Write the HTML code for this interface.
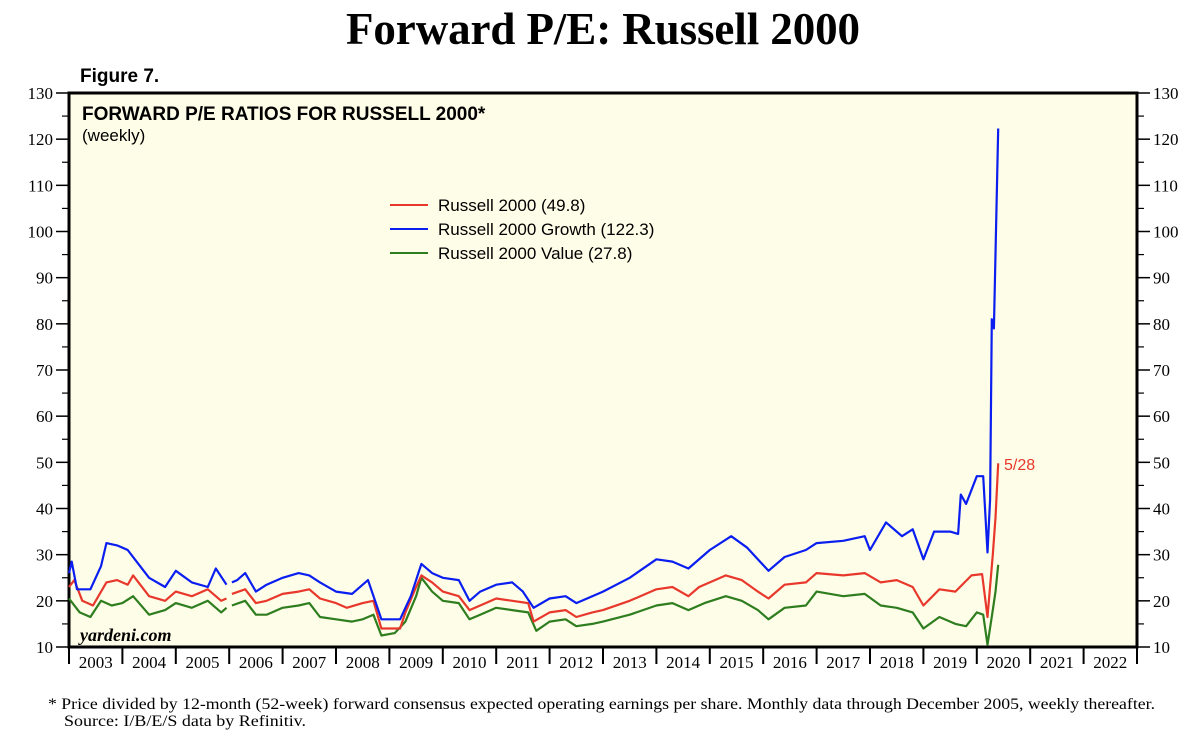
<!DOCTYPE html>
<html><head><meta charset="utf-8"><style>
body{margin:0;background:#fff;width:1200px;height:736px;overflow:hidden}
svg text{font-family:"Liberation Sans",sans-serif}
.serif{font-family:"Liberation Serif",serif}
</style></head><body>
<svg id="chart" width="1200" height="736">
<text class="serif" x="603" y="44" font-size="45" font-weight="bold" text-anchor="middle" textLength="514">Forward P/E: Russell 2000</text>
<text x="80" y="82" font-size="19" font-weight="bold">Figure 7.</text>
<rect x="69" y="93" width="1068" height="554" fill="#fefde8" stroke="#000" stroke-width="3"/>
<text x="82" y="120" font-size="19" font-weight="bold">FORWARD P/E RATIOS FOR RUSSELL 2000*</text>
<text x="82" y="141" font-size="17">(weekly)</text>
<text class="serif" x="80" y="641" font-size="18" font-style="italic" font-weight="bold">yardeni.com</text>
<g id="axes"></g>
<g id="series"></g>
<g>
<line x1="390" y1="205" x2="428" y2="205" stroke="#e8382c" stroke-width="2"/>
<text x="438" y="211" font-size="17">Russell 2000 (49.8)</text>
<line x1="390" y1="229" x2="428" y2="229" stroke="#0a1ef0" stroke-width="2"/>
<text x="438" y="235" font-size="17">Russell 2000 Growth (122.3)</text>
<line x1="390" y1="253" x2="428" y2="253" stroke="#2e7d1f" stroke-width="2"/>
<text x="438" y="259" font-size="17">Russell 2000 Value (27.8)</text>
</g>
<text x="1004" y="470" font-size="16" fill="#e8382c">5/28</text>
<text class="serif" x="48" y="709" font-size="16" textLength="1107" lengthAdjust="spacingAndGlyphs">*  Price divided by 12-month (52-week) forward consensus expected operating earnings per share. Monthly data through December 2005, weekly thereafter.</text>
<text class="serif" x="64" y="726" font-size="16" textLength="242" lengthAdjust="spacingAndGlyphs">Source: I/B/E/S data by Refinitiv.</text>
</svg>
<script>
const yTicks=[10,20,30,40,50,60,70,80,90,100,110,120,130];
const years=[2003,2004,2005,2006,2007,2008,2009,2010,2011,2012,2013,2014,2015,2016,2017,2018,2019,2020,2021,2022];
const r2kDates=[2003.0,2003.1,2003.25,2003.45,2003.7,2003.9,2004.1,2004.2,2004.5,2004.8,2005.0,2005.3,2005.6,2005.85,2005.95,null,2006.05,2006.3,2006.5,2006.7,2007.0,2007.3,2007.5,2007.7,2008.0,2008.2,2008.5,2008.7,2008.85,2009.2,2009.3,2009.5,2009.6,2009.8,2010.0,2010.3,2010.5,2010.7,2011.0,2011.3,2011.6,2011.7,2012.0,2012.3,2012.5,2012.8,2013.0,2013.5,2014.0,2014.3,2014.6,2014.8,2015.0,2015.3,2015.6,2015.9,2016.1,2016.4,2016.8,2017.0,2017.5,2017.9,2018.2,2018.5,2018.8,2019.0,2019.3,2019.6,2019.9,2020.1,2020.2,2020.3,2020.35,2020.4];
const r2kVals=[23,24.5,20,19,24,24.5,23.5,25.5,21,20,22,21,22.5,20,20.5,null,21.5,22.5,19.5,20,21.5,22,22.5,20.5,19.5,18.5,19.5,20,14,14,17.5,23,25.5,24,22,21,18,19,20.5,20,19.5,15.5,17.5,18,16.5,17.5,18,20,22.5,23,21,23,24,25.5,24.5,22,20.5,23.5,24,26,25.5,26,24,24.5,23,19,22.5,22,25.5,25.8,16.5,30,38,49.8];
const growthDates=[2003.0,2003.05,2003.15,2003.4,2003.6,2003.7,2003.9,2004.1,2004.3,2004.5,2004.8,2005.0,2005.3,2005.6,2005.75,2005.95,null,2006.05,2006.15,2006.3,2006.5,2006.7,2007.0,2007.3,2007.5,2007.7,2008.0,2008.3,2008.6,2008.85,2009.2,2009.4,2009.6,2009.8,2010.0,2010.3,2010.5,2010.7,2011.0,2011.3,2011.5,2011.7,2012.0,2012.3,2012.5,2012.8,2013.0,2013.5,2014.0,2014.3,2014.6,2015.0,2015.4,2015.7,2016.1,2016.4,2016.8,2017.0,2017.5,2017.9,2018.0,2018.3,2018.6,2018.8,2019.0,2019.2,2019.5,2019.65,2019.7,2019.8,2020.0,2020.12,2020.2,2020.25,2020.28,2020.32,2020.4];
const growthVals=[26,28.5,22.5,22.5,27.5,32.5,32,31,28,25,23,26.5,24,23,27,23.5,null,24,24.5,26,22,23.5,25,26,25.5,24,22,21.5,24.5,16,16,21,28,26,25,24.5,20,22,23.5,24,22,18.5,20.5,21,19.5,21,22,25,29,28.5,27,31,34,31.5,26.5,29.5,31,32.5,33,34,31,37,34,35.5,29,35,35,34.5,43,41,47,47,30.5,42,81,79,122.3];
const valueDates=[2003.0,2003.2,2003.4,2003.6,2003.8,2004.0,2004.2,2004.5,2004.8,2005.0,2005.3,2005.6,2005.85,2005.95,null,2006.05,2006.3,2006.5,2006.7,2007.0,2007.3,2007.5,2007.7,2008.0,2008.3,2008.5,2008.7,2008.85,2009.1,2009.3,2009.5,2009.6,2009.8,2010.0,2010.3,2010.5,2010.7,2011.0,2011.3,2011.6,2011.75,2012.0,2012.3,2012.5,2012.8,2013.0,2013.5,2014.0,2014.3,2014.6,2014.9,2015.3,2015.6,2015.9,2016.1,2016.4,2016.8,2017.0,2017.5,2017.9,2018.2,2018.5,2018.8,2019.0,2019.3,2019.6,2019.8,2020.0,2020.12,2020.2,2020.3,2020.35,2020.4];
const valueVals=[20.5,17.5,16.5,20,19,19.5,21,17,18,19.5,18.5,20,17.5,18.5,null,19,20,17,17,18.5,19,19.5,16.5,16,15.5,16,17,12.5,13,15.5,21,25,22,20,19.5,16,17,18.5,18,17.5,13.5,15.5,16,14.5,15,15.5,17,19,19.5,18,19.5,21,20,18,16,18.5,19,22,21,21.5,19,18.5,17.5,14,16.5,15,14.5,17.5,17,10.5,18,22,27.8];

const X0=69,X1=1137,Y0=647,Y1=93;
const xs=t=>X0+(t-2003)*(X1-X0)/20;
const ys=v=>Y0-(v-10)*(Y0-Y1)/120;
const NS="http://www.w3.org/2000/svg";
const ax=document.getElementById('axes');
function mk(tag,attrs,parent){const e=document.createElementNS(NS,tag);for(const k in attrs)e.setAttribute(k,attrs[k]);parent.appendChild(e);return e;}
yTicks.forEach(v=>{
  const y=ys(v);
  const l=mk('line',{x1:X0-13,x2:X0,y1:y,y2:y,stroke:'#000','stroke-width':1.5},ax);
  
  
  const r=mk('line',{x1:X1,x2:X1+13,y1:y,y2:y,stroke:'#000','stroke-width':1.5},ax);
  
  
  if(v<130){const ym=ys(v+5);
    mk('line',{x1:X0-7,x2:X0,y1:ym,y2:ym,stroke:'#000','stroke-width':1.2},ax);
    mk('line',{x1:X1,x2:X1+7,y1:ym,y2:ym,stroke:'#000','stroke-width':1.2},ax);}
  const t=mk('text',{x:X0-16,y:y+6,'font-size':17,'text-anchor':'end',class:'serif'},ax);t.textContent=v;
  
  
  const t2=mk('text',{x:X1+16,y:y+6,'font-size':17,class:'serif'},ax);t2.textContent=v;
  
  
});
years.concat([2023]).forEach(yr=>{
  const x=xs(yr);
  mk('line',{x1:x,x2:x,y1:Y0,y2:Y0+17,stroke:'#000','stroke-width':2},ax);
  if(yr<2023){const t=mk('text',{x:x+26.7,y:Y0+21,'font-size':17,'text-anchor':'middle',class:'serif'},ax);t.textContent=yr;
  
  }
});
const sg=document.getElementById('series');
function draw(d,v,color,name){
  let p='',pen=false;
  for(let i=0;i<d.length;i++){
    if(d[i]===null){pen=false;continue;}
    p+=(pen?'L':'M')+xs(d[i]).toFixed(1)+' '+ys(v[i]).toFixed(1)+' ';pen=true;
  }
  const e=mk('path',{d:p,fill:'none',stroke:color,'stroke-width':2.2,'stroke-linejoin':'round'},sg);
  
  
}
draw(valueDates,valueVals,'#2e7d1f','series-value-line');
draw(r2kDates,r2kVals,'#e8382c','series-russell-2000-line');
draw(growthDates,growthVals,'#0a1ef0','series-growth-line');
</script>
</body></html>
